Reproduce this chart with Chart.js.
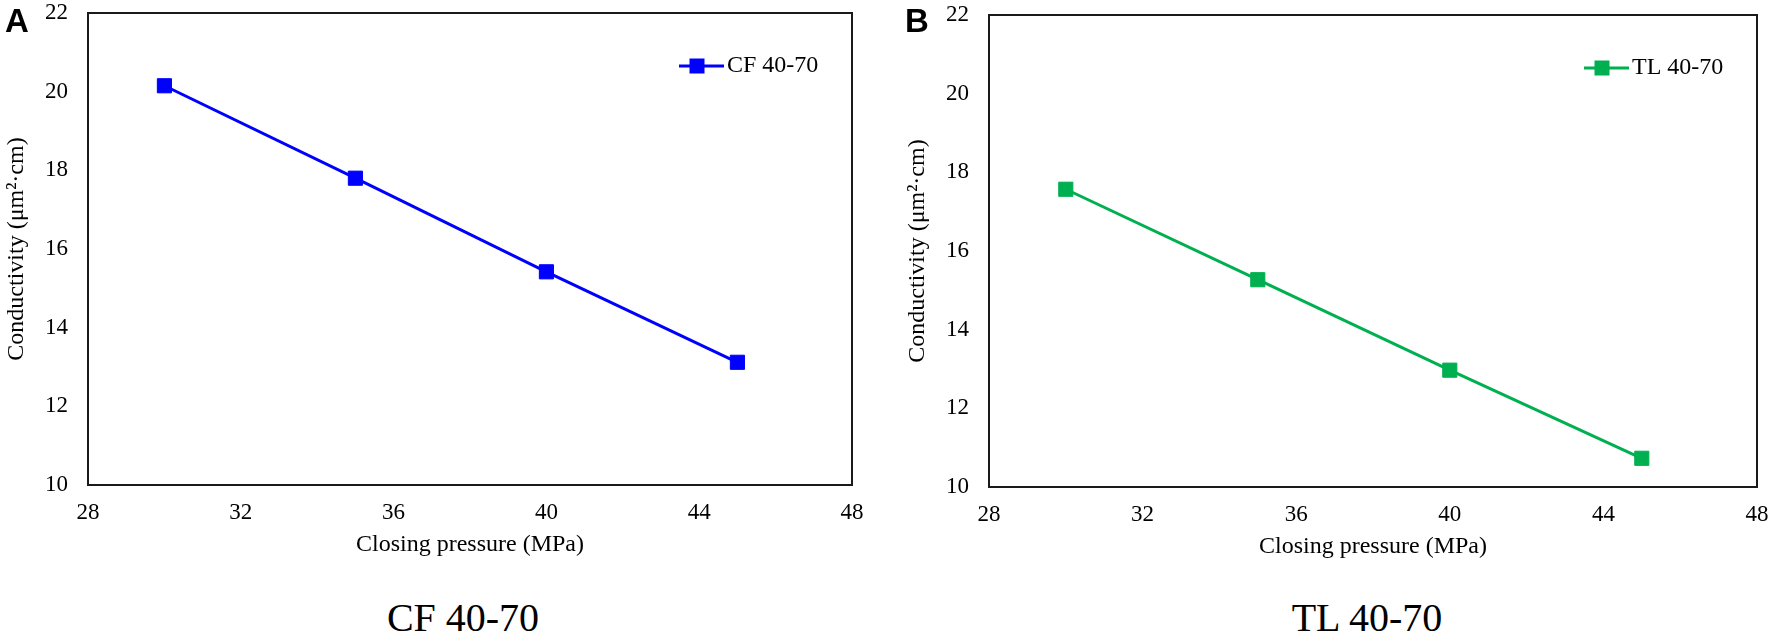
<!DOCTYPE html>
<html>
<head>
<meta charset="utf-8">
<script src="https://cdn.jsdelivr.net/npm/chart.js@4.4.1/dist/chart.umd.min.js"></script>
<style>
html,body{margin:0;padding:0;background:#fff;}
#fig{position:relative;width:1772px;height:642px;overflow:hidden;background:#fff;}
.panel{position:absolute;top:0;width:886px;height:570px;}
.letter{position:absolute;font-family:"Liberation Sans",Arial,sans-serif;font-weight:bold;font-size:33px;line-height:1;color:#000;}
.cap{position:absolute;font-family:"Liberation Serif","Times New Roman",serif;font-size:40px;line-height:1;transform:translate(-50%,-50%);white-space:nowrap;color:#000;}
</style>
</head>
<body>
<div id="fig">
  <div class="panel" style="left:0px"><canvas id="chartA"></canvas></div>
  <div class="panel" style="left:886px"><canvas id="chartB"></canvas></div>
  <div class="letter" style="left:5px;top:4px">A</div>
  <div class="letter" style="left:905px;top:4px">B</div>
  <div class="cap" style="left:463px;top:618px">CF 40-70</div>
  <div class="cap" style="left:1367px;top:618px">TL 40-70</div>
</div>
<script>
// ---- data ----
const closingPressure = [30, 35, 40, 45];
const cfConductivity = [20.15, 17.8, 15.42, 13.12];
const tlConductivity = [17.57, 15.27, 12.97, 10.73];
const xTickValues = [28, 32, 36, 40, 44, 48];
const yTickValues = [10, 12, 14, 16, 18, 20, 22];
const seriesNames = ['CF 40-70', 'TL 40-70'];
const seriesColors = ['#0000FF', '#00B050'];
const xTitle = 'Closing pressure (MPa)';
const yTitle = 'Conductivity (\u03BCm\u00B2\u00B7cm)';

const SERIF = '"Liberation Serif", "Times New Roman", serif';

function legendIcon(color) {
  const c = document.createElement('canvas');
  c.width = 54; c.height = 16;
  const g = c.getContext('2d');
  g.strokeStyle = color; g.lineWidth = 3;
  g.beginPath(); g.moveTo(0, 8); g.lineTo(54, 8); g.stroke();
  g.fillStyle = color;
  g.fillRect(27 - 7.5, 8 - 7.5, 15, 15);
  return c;
}

const framePlugin = {
  id: 'frame',
  beforeDatasetsDraw(chart) {
    const {ctx, chartArea: a} = chart;
    ctx.save();
    ctx.strokeStyle = '#1a1a1a';
    ctx.lineWidth = 2;
    ctx.strokeRect(a.left, a.top, a.right - a.left, a.bottom - a.top);
    ctx.restore();
  }
};

const legendPlacePlugin = {
  id: 'legendPlace',
  afterLayout(chart, args, opts) {
    const lg = chart.legend;
    if (!lg) return;
    const a = chart.chartArea;
    const cx = a.right - opts.fromRight;
    const cy = a.top + opts.fromTop;
    lg.left = cx - 18;
    lg.right = lg.left + 300;
    lg.top = cy - 12;
    lg.bottom = lg.top + 40;
  }
};

function makeChart(id, name, values, color, pad) {
  const points = closingPressure.map((x, i) => ({x: x, y: values[i]}));
  return new Chart(document.getElementById(id), {
    type: 'line',
    data: {
      datasets: [{
        label: name,
        data: points,
        borderColor: color,
        backgroundColor: color,
        borderWidth: 3,
        pointStyle: 'rect',
        pointRadius: 10,
        pointHoverRadius: 10,
        pointBorderWidth: 1,
        pointBorderColor: color,
        pointBackgroundColor: color,
        tension: 0
      }]
    },
    options: {
      responsive: true,
      maintainAspectRatio: false,
      animation: false,
      devicePixelRatio: 1,
      layout: {padding: {left: pad.left, right: pad.right, top: pad.top, bottom: pad.bottom}},
      plugins: {
        tooltip: {enabled: false},
        legend: {
          display: true,
          position: 'chartArea',
          align: 'start',
          labels: {
            usePointStyle: true,
            pointStyleWidth: 36,
            padding: 0,
            color: '#000',
            font: {family: SERIF, size: 24},
            generateLabels(chart) {
              const items = Chart.defaults.plugins.legend.labels.generateLabels(chart);
              items.forEach(it => { it.pointStyle = legendIcon(color); });
              return items;
            }
          }
        },
        legendPlace: {fromRight: 155, fromTop: 53}
      },
      scales: {
        x: {
          type: 'linear',
          min: xTickValues[0],
          max: xTickValues[xTickValues.length - 1],
          grid: {display: false, drawTicks: false},
          border: {display: false},
          ticks: {
            stepSize: xTickValues[1] - xTickValues[0],
            padding: 14,
            color: '#000',
            font: {family: SERIF, size: 23}
          },
          title: {
            display: true,
            text: xTitle,
            color: '#000',
            font: {family: SERIF, size: 24},
            padding: {top: 0, bottom: 6}
          },
          afterFit(scale) { scale.height = 80; scale.paddingLeft = 0; scale.paddingRight = 0; }
        },
        y: {
          type: 'linear',
          min: yTickValues[0],
          max: yTickValues[yTickValues.length - 1],
          grid: {display: false, drawTicks: false},
          border: {display: false},
          ticks: {
            stepSize: yTickValues[1] - yTickValues[0],
            padding: 20,
            color: '#000',
            font: {family: SERIF, size: 23}
          },
          title: {
            display: true,
            text: yTitle,
            color: '#000',
            font: {family: SERIF, size: 24},
            padding: {top: 2, bottom: 0}
          },
          afterFit(scale) { scale.width = 88; scale.paddingTop = 0; scale.paddingBottom = 0; }
        }
      }
    },
    plugins: [framePlugin, legendPlacePlugin]
  });
}

makeChart('chartA', seriesNames[0], cfConductivity, seriesColors[0], {left: 0, right: 34, top: 13, bottom: 5});
makeChart('chartB', seriesNames[1], tlConductivity, seriesColors[1], {left: 15, right: 15, top: 15, bottom: 3});
</script>
</body>
</html>
